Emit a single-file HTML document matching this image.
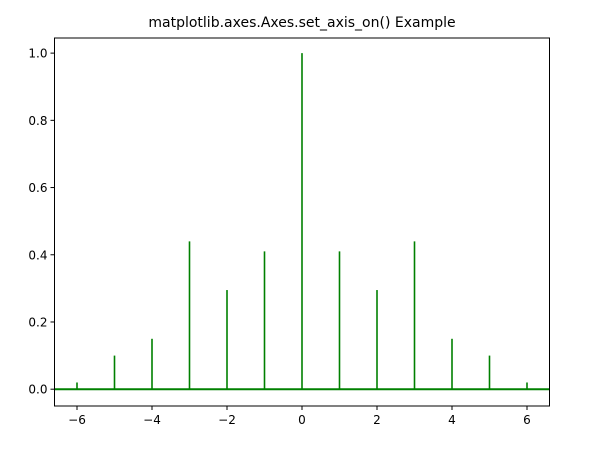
<!DOCTYPE html>
<html><head><meta charset="utf-8"><style>
body{margin:0;background:#fff}
svg text{font-family:"DejaVu Sans","Liberation Sans",sans-serif;fill:#000}
</style></head><body>
<svg width="596" height="453">
<text x="302" y="27" font-size="14" text-anchor="middle">matplotlib.axes.Axes.set_axis_on() Example</text>
<g id="plot"></g>
</svg>
<script>
const xs=[-6,-5,-4,-3,-2,-1,0,1,2,3,4,5,6];
const vals=[0.02,0.1,0.15,0.44,0.295,0.41,1.0,0.41,0.295,0.44,0.15,0.1,0.02];
const xTicks=[-6,-4,-2,0,2,4,6];
const yTicks=[0.0,0.2,0.4,0.6,0.8,1.0];
const L=54.5,R=549.5,T=38,B=406,xmin=-6.6,xmax=6.6,ymin=-0.05,ymax=1.045;
const sx=v=>L+(v-xmin)/(xmax-xmin)*(R-L);
const sy=v=>B-(v-ymin)/(ymax-ymin)*(B-T);
const g=document.getElementById('plot'),NS='http://www.w3.org/2000/svg';
function mk(t,a){const e=document.createElementNS(NS,t);for(const k in a)e.setAttribute(k,a[k]);g.appendChild(e);return e;}
xs.forEach((x,i)=>{const e=mk('line',{x1:sx(x),x2:sx(x),y1:sy(0),y2:sy(vals[i]),stroke:'#008000','stroke-width':1.6});

});
const bl=mk('line',{x1:L,x2:R,y1:sy(0),y2:sy(0),stroke:'#008000','stroke-width':2});


const fr=mk('rect',{x:L,y:T,width:R-L,height:B-T,fill:'none',stroke:'#000','stroke-width':1});


xTicks.forEach(t=>{mk('line',{x1:sx(t),x2:sx(t),y1:B,y2:B+4,stroke:'#000'});
const tx=mk('text',{x:sx(t),y:B+18,'font-size':12,'text-anchor':'middle'});tx.textContent=(t<0?'\u2212':'')+Math.abs(t);

});
yTicks.forEach(t=>{mk('line',{x1:L-4,x2:L,y1:sy(t),y2:sy(t),stroke:'#000'});
const tx=mk('text',{x:L-7,y:sy(t)+4.5,'font-size':12,'text-anchor':'end'});tx.textContent=t.toFixed(1);

});
</script>
</body></html>
